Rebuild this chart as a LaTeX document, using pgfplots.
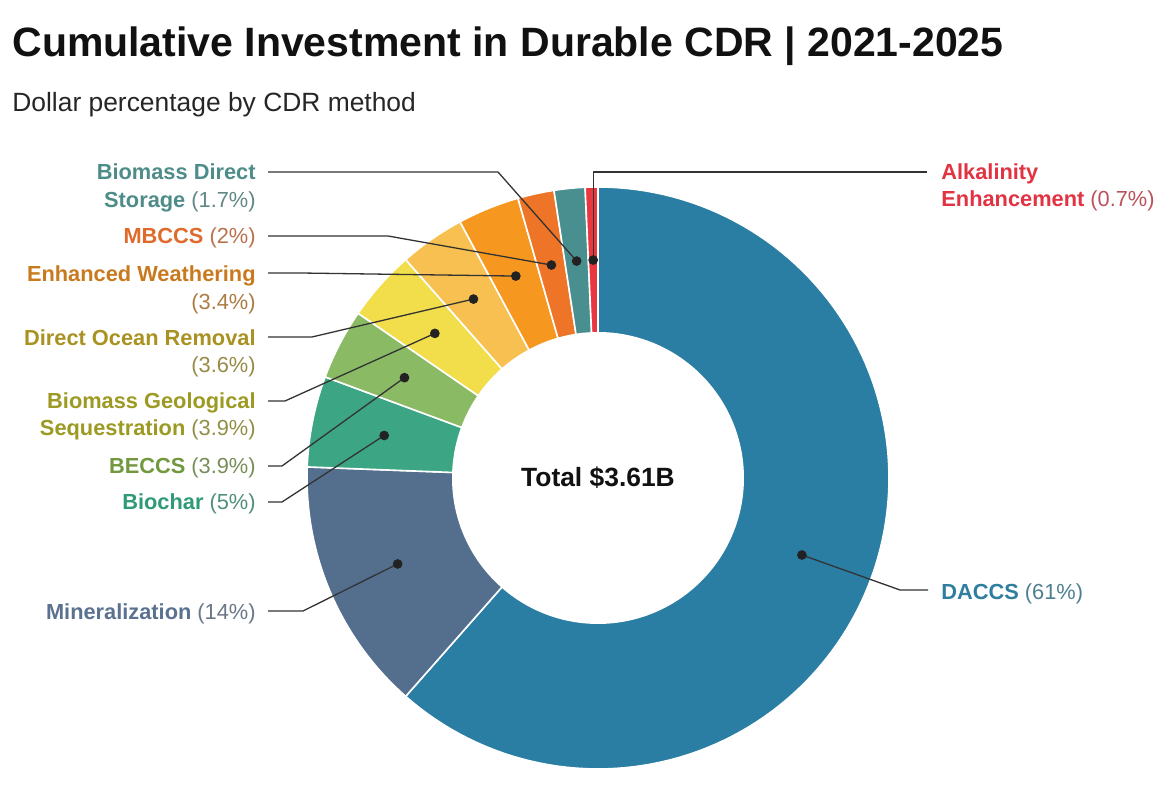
\documentclass[border=0pt]{standalone}
\usepackage{pgfplots}
\pgfplotsset{compat=1.18}
\usepackage{pgfplotstable}
\usepackage{fontspec}
\setmainfont{Liberation Sans}

% slice fills, clockwise from 12 o'clock
\definecolor{slice0}{HTML}{2A7DA3}% DACCS
\definecolor{slice1}{HTML}{546F8E}% Mineralization
\definecolor{slice2}{HTML}{3CA584}% Biochar
\definecolor{slice3}{HTML}{8BBA65}% BECCS
\definecolor{slice4}{HTML}{F2DE4A}% Biomass Geological Sequestration
\definecolor{slice5}{HTML}{F8C050}% Direct Ocean Removal
\definecolor{slice6}{HTML}{F6981F}% Enhanced Weathering
\definecolor{slice7}{HTML}{EE7527}% MBCCS
\definecolor{slice8}{HTML}{4A8F8F}% Biomass Direct Storage
\definecolor{slice9}{HTML}{E8373F}% Alkalinity Enhancement
% label colours
\definecolor{txt0}{HTML}{2F7EA0}
\definecolor{txt1}{HTML}{5B7190}
\definecolor{txt2}{HTML}{2E9A78}
\definecolor{txt3}{HTML}{72983E}
\definecolor{txt4}{HTML}{9C9A22}
\definecolor{txt5}{HTML}{A89222}
\definecolor{txt6}{HTML}{C97A1E}
\definecolor{txt7}{HTML}{E06A2C}
\definecolor{txt8}{HTML}{4E8C8A}
\definecolor{txt9}{HTML}{E23343}
\definecolor{leadc}{HTML}{333333}
\definecolor{dotc}{HTML}{222222}
\definecolor{titlec}{HTML}{111111}

% share of cumulative investment, percent
\pgfplotstableread{
method share
DACCS 61
Mineralization 14
Biochar 5
BECCS 3.9
BGS 3.9
DOR 3.6
EW 3.4
MBCCS 2
BDS 1.7
AE 0.7
}\cdrshares

% total of the shares
\pgfplotstablegetrowsof{\cdrshares}
\pgfmathtruncatemacro\lastrow{\pgfplotsretval-1}
\xdef\sharetotal{0}
\foreach \i in {0,...,\lastrow}{%
  \pgfplotstablegetelem{\i}{share}\of\cdrshares
  \pgfmathsetmacro\tmpsum{\sharetotal+\pgfplotsretval}%
  \xdef\sharetotal{\tmpsum}%
}
\pgfmathsetmacro\degpershare{360/\sharetotal}
% start/end angles (clockwise from 90 deg) and label-dot positions
\xdef\sharecum{0}
\foreach \i in {0,...,\lastrow}{%
  \pgfplotstablegetelem{\i}{share}\of\cdrshares
  \pgfmathsetmacro\tmpa{90-\degpershare*\sharecum}%
  \pgfmathsetmacro\tmpc{\sharecum+\pgfplotsretval}%
  \pgfmathsetmacro\tmpb{90-\degpershare*\tmpc}%
  \pgfmathsetmacro\tmpm{(\tmpa+\tmpb)/2}%
  \pgfmathsetmacro\tmpx{218*cos(\tmpm)}%
  \pgfmathsetmacro\tmpy{218*sin(\tmpm)}%
  \expandafter\xdef\csname sa\i\endcsname{\tmpa}%
  \expandafter\xdef\csname sb\i\endcsname{\tmpb}%
  \expandafter\xdef\csname dx\i\endcsname{\tmpx}%
  \expandafter\xdef\csname dy\i\endcsname{\tmpy}%
  \xdef\sharecum{\tmpc}%
}

\newcommand\labfont{\fontsize{10.9pt}{13.5pt}\selectfont}
\newcommand\nm[2]{\textcolor{txt#1}{\bfseries #2}}
\newcommand\pc[2]{\textcolor{txt#1!60!gray}{#2}}
\tikzset{
  leader/.style={draw=leadc, line width=0.65pt, line join=round},
  lbl/.style={inner sep=0pt, font=\labfont},
}

\begin{document}
\begin{tikzpicture}
\useasboundingbox (0,0) rectangle (587.5pt,398.5pt);
\begin{axis}[
  x=0.5pt, y=0.5pt,
  xmin=-598, xmax=577, ymin=-319, ymax=478,
  hide axis, clip=false,
]
% ring segments
\pgfplotsinvokeforeach{0,...,9}{
  \addplot[fill=slice#1, draw=white, line width=0.8pt, line join=round,
    domain=\csname sb#1\endcsname:\csname sa#1\endcsname,
    samples=120, variable=\t]
    ({291*cos(\t)},{291*sin(\t)}) -- (axis cs:0,0) -- cycle;
}
% hole
\addplot[fill=white, draw=none, domain=0:360, samples=181, variable=\t]
  ({146*cos(\t)},{146*sin(\t)}) -- cycle;

\pgfplotsinvokeforeach{0,...,9}{
  \coordinate (d#1) at (axis cs:\csname dx#1\endcsname,\csname dy#1\endcsname);
}

% leader lines
\draw[leader] (axis cs:330,-112) -- (axis cs:302,-112) -- (d0);
\draw[leader] (axis cs:-330,-133) -- (axis cs:-295,-133) -- (d1);
\draw[leader] (axis cs:-330,-24) -- (axis cs:-316,-24) -- (d2);
\draw[leader] (axis cs:-330,12) -- (axis cs:-316,12) -- (d3);
\draw[leader] (axis cs:-330,77) -- (axis cs:-313,77) -- (d4);
\draw[leader] (axis cs:-330,141) -- (axis cs:-286,141) -- (d5);
\draw[leader] (axis cs:-330,205) -- (axis cs:-298,205) -- (d6);
\draw[leader] (axis cs:-330,242) -- (axis cs:-210,242) -- (d7);
\draw[leader] (axis cs:-330,306) -- (axis cs:-100,306) -- (d8);
\coordinate (ae) at (axis cs:329,306);
\draw[leader] (ae) -- (d9 |- ae) -- (d9);

% dots
\pgfplotsinvokeforeach{0,...,9}{
  \addplot[only marks, mark=*, mark size=2.2pt, draw=dotc, fill=dotc]
    coordinates {(\csname dx#1\endcsname,\csname dy#1\endcsname)};
}

% titles
\node[anchor=base west, inner sep=0pt, text=titlec,
  font=\fontsize{20.5pt}{24pt}\selectfont\bfseries]
  at (axis cs:-586,421) {Cumulative Investment in Durable CDR | 2021-2025};
\node[anchor=base west, inner sep=0pt, text=black!85,
  font=\fontsize{13.2pt}{15pt}\selectfont]
  at (axis cs:-586,366) {Dollar percentage by CDR method};
\node[anchor=base, inner sep=0pt, text=titlec,
  font=\fontsize{13.2pt}{15pt}\selectfont\bfseries]
  at (axis cs:0,-9) {Total \$3.61B};

% left labels
\node[lbl, anchor=base east] at (axis cs:-342,298.5) {\nm{8}{Biomass Direct}};
\node[lbl, anchor=base east] at (axis cs:-342,270.5) {\nm{8}{Storage} \pc{8}{(1.7\%)}};
\node[lbl, anchor=base east] at (axis cs:-342,234.5) {\nm{7}{MBCCS} \pc{7}{(2\%)}};
\node[lbl, anchor=base east] at (axis cs:-342,196.5) {\nm{6}{Enhanced Weathering}};
\node[lbl, anchor=base east] at (axis cs:-342,168.5) {\pc{6}{(3.4\%)}};
\node[lbl, anchor=base east] at (axis cs:-342,132.5) {\nm{5}{Direct Ocean Removal}};
\node[lbl, anchor=base east] at (axis cs:-342,105.5) {\pc{5}{(3.6\%)}};
\node[lbl, anchor=base east] at (axis cs:-342,69.5) {\nm{4}{Biomass Geological}};
\node[lbl, anchor=base east] at (axis cs:-342,42.5) {\nm{4}{Sequestration} \pc{4}{(3.9\%)}};
\node[lbl, anchor=base east] at (axis cs:-342,4.5) {\nm{3}{BECCS} \pc{3}{(3.9\%)}};
\node[lbl, anchor=base east] at (axis cs:-342,-31.5) {\nm{2}{Biochar} \pc{2}{(5\%)}};
\node[lbl, anchor=base east] at (axis cs:-342,-141.5) {\nm{1}{Mineralization} \pc{1}{(14\%)}};
% right labels
\node[lbl, anchor=base west] at (axis cs:343,298.5) {\nm{9}{Alkalinity}};
\node[lbl, anchor=base west] at (axis cs:343,271.5) {\nm{9}{Enhancement} \pc{9}{(0.7\%)}};
\node[lbl, anchor=base west] at (axis cs:343,-121.5) {\nm{0}{DACCS} \pc{0}{(61\%)}};
\end{axis}
\end{tikzpicture}
\end{document}
